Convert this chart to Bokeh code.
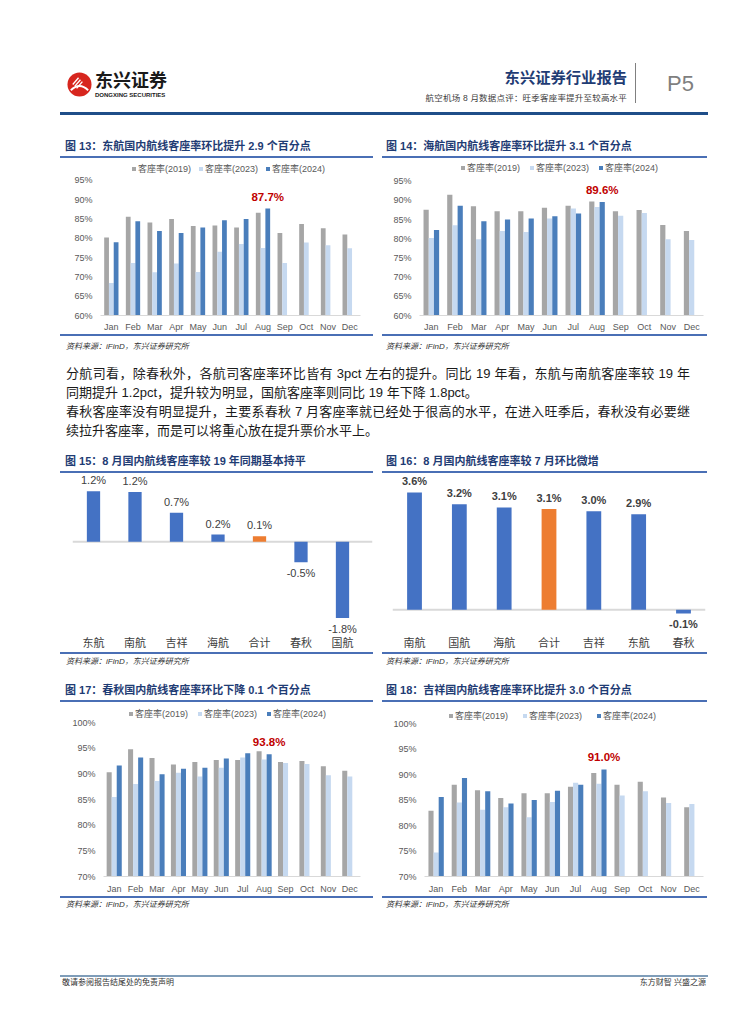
import math
from bokeh.plotting import figure
from bokeh.models import (ColumnDataSource, FactorRange, Range1d, FixedTicker,
                          PrintfTickFormatter, Legend, LegendItem, Span, Div, LabelSet)
from bokeh.layouts import column, row
from bokeh.transform import dodge
from bokeh.core.properties import value
from bokeh.embed import file_html
from bokeh.resources import INLINE

NAN = float("nan")

# ---------------- data ----------------
months = ["Jan", "Feb", "Mar", "Apr", "May", "Jun", "Jul", "Aug", "Sep", "Oct", "Nov", "Dec"]
series_names = ["客座率(2019)", "客座率(2023)", "客座率(2024)"]

# 图13 东航
dh_2019 = [80.2, 85.6, 84.1, 85.0, 83.2, 83.3, 82.8, 86.6, 81.4, 83.7, 82.6, 81.0]
dh_2023 = [68.4, 73.6, 71.2, 73.5, 71.3, 76.5, 78.5, 77.5, 73.6, 78.9, 78.2, 77.4]
dh_2024 = [79.0, 84.4, 81.9, 81.4, 82.8, 84.7, 85.0, 87.7]
# 图14 海航
hh_2019 = [87.6, 91.5, 88.5, 87.2, 87.2, 88.1, 88.6, 89.7, 87.2, 87.5, 83.6, 82.0]
hh_2023 = [80.2, 83.5, 79.9, 82.0, 81.8, 85.3, 87.9, 88.3, 86.0, 86.7, 79.9, 79.7]
hh_2024 = [82.3, 88.6, 84.6, 85.0, 85.3, 85.9, 86.6, 89.6]
# 图17 春秋
cq_2019 = [90.3, 94.8, 93.1, 91.8, 92.3, 92.7, 92.7, 94.4, 92.3, 92.5, 91.5, 90.6]
cq_2023 = [85.5, 88.0, 88.6, 90.2, 89.5, 91.2, 93.2, 92.8, 92.1, 91.9, 89.7, 89.5]
cq_2024 = [91.6, 93.2, 89.9, 91.0, 91.2, 93.0, 94.0, 93.8]
# 图18 吉祥
jx_2019 = [82.9, 88.0, 86.9, 85.4, 86.3, 86.3, 87.6, 90.3, 88.0, 88.6, 85.5, 83.6]
jx_2023 = [74.7, 84.5, 83.1, 83.6, 81.6, 84.6, 88.4, 88.2, 85.9, 86.7, 84.4, 84.2]
jx_2024 = [85.6, 89.3, 86.7, 84.3, 85.0, 86.8, 88.0, 91.0]

# 图15 较19年同期 (pct)
yoy_airlines = ["东航", "南航", "吉祥", "海航", "合计", "春秋", "国航"]
yoy_change = [1.20, 1.18, 0.69, 0.17, 0.13, -0.49, -1.82]
# 图16 较7月环比 (pct)
mom_airlines = ["南航", "国航", "海航", "合计", "吉祥", "东航", "春秋"]
mom_change = [3.60, 3.24, 3.14, 3.09, 3.02, 2.93, -0.11]

ticks_60_95 = [60, 65, 70, 75, 80, 85, 90, 95]
ticks_70_100 = [70, 75, 80, 85, 90, 95, 100]

# ---------------- styles ----------------
C19 = "#A6A6A6"
C23 = "#C6D9F0"
C24 = "#4A7EBB"
BLUE = "#4472C4"
ORANGE = "#ED7D31"
NAVY = "#1F3C74"
FONT_B = "Liberation Sans, Noto Sans CJK SC"
FONT_CSS = "'Liberation Sans','Noto Sans CJK SC',sans-serif"


def no_ticks(axis):
    axis.major_tick_line_color = None
    axis.minor_tick_line_color = None
    axis.major_tick_out = 0
    axis.major_tick_in = 0
    axis.minor_tick_out = 0
    axis.minor_tick_in = 0


def grouped_chart(width, height, mb, y_start, y_end, ticks, v19, v23, v24,
                  bar_w, legend_x, legend_center_from_bottom, legend_spacing, x_standoff):
    pad = list(v24) + [NAN] * (len(months) - len(v24))
    src = ColumnDataSource(dict(m=months, a=v19, b=v23, c=pad))
    p = figure(width=width, height=height, x_range=FactorRange(factors=months),
               y_range=Range1d(y_start, y_end), output_backend="svg",
               toolbar_location=None, title=None,
               min_border_left=mb[0], min_border_right=mb[1],
               min_border_top=mb[2], min_border_bottom=mb[3])
    r1 = p.vbar(x=dodge("m", -bar_w, range=p.x_range), top="a", bottom=y_start,
                width=bar_w, source=src, fill_color=C19, line_color=None)
    r2 = p.vbar(x=dodge("m", 0, range=p.x_range), top="b", bottom=y_start,
                width=bar_w, source=src, fill_color=C23, line_color=None)
    r3 = p.vbar(x=dodge("m", bar_w, range=p.x_range), top="c", bottom=y_start,
                width=bar_w, source=src, fill_color=C24, line_color=None)
    last = len(v24) - 1
    lab = ColumnDataSource(dict(m=[months[last]], v=[v24[last]], t=[f"{v24[last]:.1f}%"]))
    p.text(x=dodge("m", bar_w, range=p.x_range), y="v", text="t", source=lab,
           y_offset=-12, text_align="center", text_baseline="middle",
           text_color="#C00000", text_font_size="11.5px", text_font_style="bold",
           text_font=value("Liberation Sans"))
    leg = Legend(items=[LegendItem(label=series_names[0], renderers=[r1]),
                        LegendItem(label=series_names[1], renderers=[r2]),
                        LegendItem(label=series_names[2], renderers=[r3])],
                 location=(legend_x, legend_center_from_bottom - 6),
                 orientation="horizontal",
                 glyph_width=5, glyph_height=5, label_height=10, label_width=10,
                 label_text_font_size="9px", label_text_color="#595959",
                 label_text_font=FONT_B, label_standoff=2, spacing=legend_spacing,
                 padding=0, margin=0, border_line_color=None, background_fill_alpha=0)
    p.add_layout(leg)
    p.xgrid.visible = False
    p.ygrid.visible = False
    p.outline_line_color = None
    p.xaxis.axis_line_color = "#D9D9D9"
    p.xaxis.axis_line_width = 1
    no_ticks(p.xaxis)
    p.xaxis.major_label_text_font_size = "9px"
    p.xaxis.major_label_text_color = "#595959"
    p.xaxis.major_label_text_font = "Liberation Sans"
    p.xaxis.major_label_standoff = x_standoff
    p.yaxis.axis_line_color = None
    no_ticks(p.yaxis)
    p.yaxis.ticker = FixedTicker(ticks=ticks)
    p.yaxis.formatter = PrintfTickFormatter(format="%d%%")
    p.yaxis.major_label_text_font_size = "9px"
    p.yaxis.major_label_text_color = "#595959"
    p.yaxis.major_label_text_font = "Liberation Sans"
    p.yaxis.major_label_standoff = 8
    return p


def change_chart(width, height, mb, x_start, x_end, y_start, y_end, cats, vals, bar_w, bold):
    idx = list(range(len(cats)))
    colors = [ORANGE if c == "合计" else BLUE for c in cats]
    src = ColumnDataSource(dict(x=idx, v=vals, c=colors))
    p = figure(width=width, height=height, x_range=Range1d(x_start, x_end),
               y_range=Range1d(y_start, y_end), output_backend="svg",
               toolbar_location=None, title=None,
               min_border_left=mb[0], min_border_right=mb[1],
               min_border_top=mb[2], min_border_bottom=mb[3])
    p.add_layout(Span(location=0, dimension="width", line_color="#D9D9D9",
                      line_width=2, level="underlay"))
    p.vbar(x="x", top="v", bottom=0, width=bar_w, source=src,
           fill_color="c", line_color=None)
    pos = ColumnDataSource(dict(x=[i for i in idx if vals[i] >= 0],
                                v=[v for v in vals if v >= 0],
                                t=[f"{v:.1f}%" for v in vals if v >= 0]))
    neg = ColumnDataSource(dict(x=[i for i in idx if vals[i] < 0],
                                v=[v for v in vals if v < 0],
                                t=[f"{v:.1f}%" for v in vals if v < 0]))
    style = "bold" if bold else "normal"
    for s, off in ((pos, 11), (neg, -11)):
        p.add_layout(LabelSet(x="x", y="v", text="t", source=s, y_offset=off,
                              text_align="center", text_baseline="middle",
                              text_color="#404040", text_font_size="11px",
                              text_font_style=style, text_font=value("Liberation Sans")))
    p.xgrid.visible = False
    p.ygrid.visible = False
    p.outline_line_color = None
    p.yaxis.visible = False
    p.xaxis.ticker = FixedTicker(ticks=idx)
    p.xaxis.major_label_overrides = {i: c for i, c in enumerate(cats)}
    p.xaxis.axis_line_color = None
    no_ticks(p.xaxis)
    p.xaxis.major_label_text_font_size = "11px"
    p.xaxis.major_label_text_color = "#404040"
    p.xaxis.major_label_text_font = "Noto Sans CJK SC"
    p.xaxis.major_label_standoff = 0
    return p


# ---------------- html helpers (coordinates = page pixels) ----------------
def abs_text(x, cy, s, size, color="#000", weight="normal", style="normal",
             right=False, extra=""):
    lh = round(size * 1.5, 1)
    top = cy - lh / 2
    pos = f"right:{x}px;" if right else f"left:{x}px;"
    return (f'<div style="position:absolute;{pos}top:{top:.1f}px;font-size:{size}px;'
            f'line-height:{lh}px;color:{color};font-weight:{weight};font-style:{style};'
            f'white-space:nowrap;font-family:{FONT_CSS};{extra}">{s}</div>')


def abs_rect(x, y, w, h, color):
    return (f'<div style="position:absolute;left:{x}px;top:{y}px;width:{w}px;'
            f'height:{h}px;background:{color}"></div>')


def panel(width, height, inner):
    html = (f'<div style="position:relative;width:{width}px;height:{height}px;'
            f'overflow:visible">{inner}</div>')
    return Div(text=html, width=width, height=height, margin=0,
               styles={"overflow": "visible"})


W = 708
LINE = "#4A6FB5"
SRC = "资料来源：iFinD，东兴证券研究所"

logo_svg = ('<svg width="25" height="25" viewBox="0 0 26 26" '
            'style="position:absolute;left:67px;top:72px">'
            '<circle cx="13" cy="13" r="12.5" fill="#D7261E"/>'
            '<path d="M4 19 Q13 10 22 19" stroke="#fff" stroke-width="2" fill="none"/>'
            '<path d="M6 13 L12 6 M8 15 L14 8 M10 17 L16 10" stroke="#fff" '
            'stroke-width="1.4" fill="none"/></svg>')

# page y 0..134
header = panel(W, 134, "".join([
    logo_svg,
    abs_text(95, 81.3, "东兴证券", 18, "#1a1a1a", "bold"),
    abs_text(95, 95.7, "DONGXING SECURITIES", 6, "#1a1a1a", "bold"),
    abs_text(81, 77.5, "东兴证券行业报告", 15.3, NAVY, "bold", right=True),
    abs_text(81, 98, "航空机场 8 月数据点评：旺季客座率提升至较高水平", 8.5, "#404040",
             right=True, extra="letter-spacing:0.2px;"),
    abs_rect(635, 63, 1, 40, "#808080"),
    abs_text(667, 83, "P5", 22, "#7F7F7F"),
    abs_rect(60, 112, 648, 3, "#1F4E89"),
]))


def title_row(h, cy, uy, left_title, right_title):
    return panel(W, h, "".join([
        abs_text(65, cy, left_title, 11, NAVY, "bold"),
        abs_text(386, cy, right_title, 11, NAVY, "bold"),
        abs_rect(60, uy, 313, 1.5, LINE),
        abs_rect(382, uy, 325, 1.5, LINE),
    ]))


def source_row(h, cy):
    return panel(W, h, "".join([
        abs_rect(60, 0, 313, 1.5, LINE),
        abs_rect(382, 0, 325, 1.5, LINE),
        abs_text(66, cy, SRC, 8, "#333333", style="italic"),
        abs_text(386, cy, SRC, 8, "#333333", style="italic"),
    ]))


J = "width:624px;text-align:justify;text-align-last:justify;"
# page y 358..450
para = panel(W, 92, "".join([
    abs_text(66, 16, "分航司看，除春秋外，各航司客座率环比皆有 3pct 左右的提升。同比 19 年看，东航与南航客座率较 19 年",
             13, "#1a1a1a", extra=J),
    abs_text(66, 35, "同期提升 1.2pct，提升较为明显，国航客座率则同比 19 年下降 1.8pct。", 13, "#1a1a1a"),
    abs_text(66, 54, "春秋客座率没有明显提升，主要系春秋 7 月客座率就已经处于很高的水平，在进入旺季后，春秋没有必要继",
             13, "#1a1a1a", extra=J),
    abs_text(66, 73, "续拉升客座率，而是可以将重心放在提升票价水平上。", 13, "#1a1a1a"),
]))

# page y 920..1000
footer = panel(W, 80, "".join([
    abs_rect(60, 55, 648, 1.5, "#7F9DB9"),
    abs_text(62, 63, "敬请参阅报告结尾处的免责声明", 8, "#333333"),
    abs_text(2, 63, "东方财智 兴盛之源", 8, "#333333", right=True),
]))

# ---------------- charts ----------------
# row A: page y 158..334 ; left figure page x 0..373, right 373..707
fig13 = grouped_chart(373, 176, (100, 13, 4, 18), 60, 95 + 18 / (136 / 35), ticks_60_95,
                      dh_2019, dh_2023, dh_2024, 0.22, 31, 316 - 170, 7, 6)
fig14 = grouped_chart(334, 176, (46, 4, 4, 17), 60, 95 + 19 / (136 / 35), ticks_60_95,
                      hh_2019, hh_2023, hh_2024, 0.22, 41, 317 - 170.3, 9, 6)
# row B: page y 473..652 (frame 473..635, zero at 542 / 611)
fig15 = change_chart(373, 179, (72, 1, 0, 17), -0.506, 6.723, -(635 - 542) / 42.5,
                     (542 - 473) / 42.5, yoy_airlines, yoy_change, 0.32, False)
fig16 = change_chart(334, 179, (19, 2, 0, 17), -0.491, 6.491, -(635 - 611) / 33.0,
                     (611 - 473) / 33.0, mom_airlines, mom_change, 0.33, True)
# row C: page y 702..896
fig17 = grouped_chart(373, 194, (103, 13, 4, 20), 70, 100 + 16 / (154 / 30), ticks_70_100,
                      cq_2019, cq_2023, cq_2024, 0.235, 25, 876 - 714.3, 9, 7)
fig18 = grouped_chart(334, 194, (51, 4, 4, 20), 70, 100 + 17 / (153 / 30), ticks_70_100,
                      jx_2019, jx_2023, jx_2024, 0.22, 24, 876 - 716, 14, 7)

layout = column(
    header,
    title_row(24, 12.5, 22, "图 13：东航国内航线客座率环比提升 2.9 个百分点",
              "图 14：海航国内航线客座率环比提升 3.1 个百分点"),
    row(fig13, fig14, spacing=0),
    source_row(24, 13),
    para,
    title_row(23, 11, 21, "图 15：8 月国内航线客座率较 19 年同期基本持平",
              "图 16：8 月国内航线客座率较 7 月环比微增"),
    row(fig15, fig16, spacing=0),
    source_row(26, 10),
    title_row(24, 12, 22, "图 17：春秋国内航线客座率环比下降 0.1 个百分点",
              "图 18：吉祥国内航线客座率环比提升 3.0 个百分点"),
    row(fig17, fig18, spacing=0),
    source_row(24, 9),
    footer,
    spacing=0,
)

open("out.html", "w").write(file_html(layout, INLINE, title="东兴证券行业报告 P5"))
